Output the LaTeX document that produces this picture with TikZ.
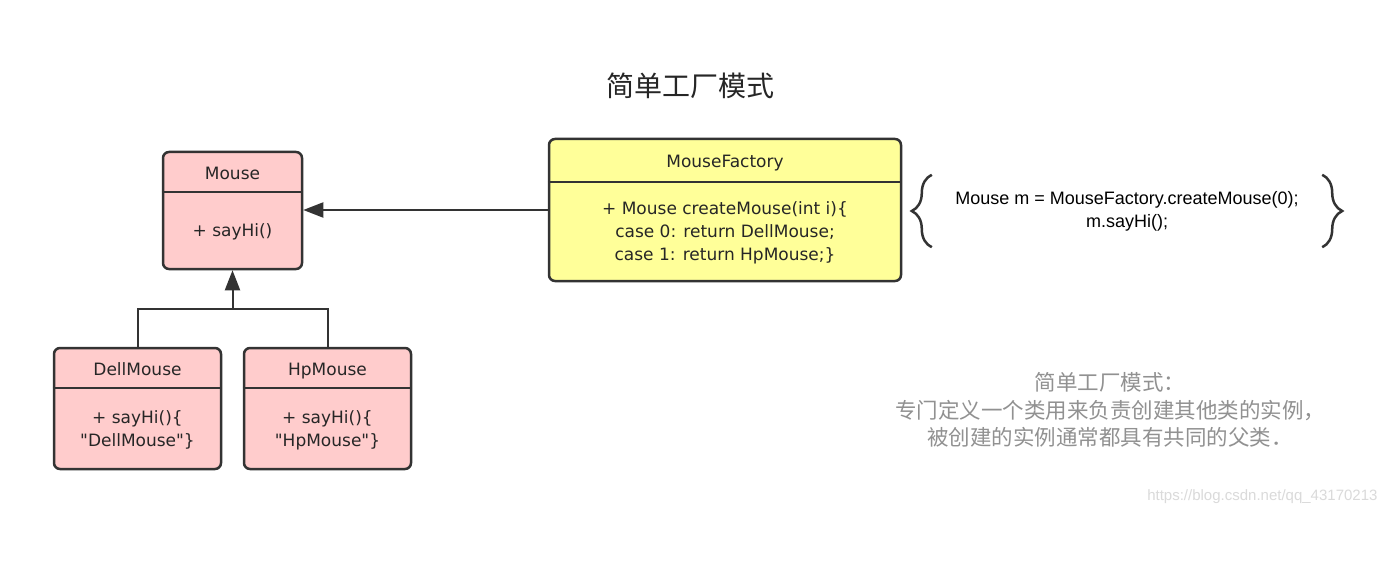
\documentclass[tikz,border=0pt]{standalone}
\usepackage{fontspec}
\setmainfont{Liberation Sans}
\newfontfamily\umlfont{DejaVu Sans}
\newfontfamily\cjk{Noto Sans CJK SC}
\usepackage{tikz}
\usetikzlibrary{positioning, arrows.meta, decorations.pathreplacing}
\definecolor{umlline}{RGB}{51,51,51}
\definecolor{umlpink}{RGB}{255,204,204}
\definecolor{umlyellow}{RGB}{255,255,153}
\definecolor{notegray}{RGB}{145,145,145}
\definecolor{markgray}{RGB}{218,218,218}

% name, center, width, height, header height, fill, title, body
\newcommand\umlclass[8]{%
  \node[classbox, fill=#6, minimum width=#3, minimum height=#4] (#1) at (#2) {};
  \draw[classline] ([yshift=-#5]#1.north west) -- ([yshift=-#5]#1.north east);
  \node[classtext, text height=12.5pt, text depth=3.5pt, minimum height=#5, below=3.5pt of #1.north] (#1-title) {#7};
  \node[classtext, minimum height=\the\numexpr#4-#5\relax, above=0pt of #1.south] (#1-body) {#8};
}

\begin{document}
\begin{tikzpicture}[x=1pt, y=-1pt,
  classbox/.style={draw=umlline, line width=2.5pt, rounded corners=6pt, inner sep=0pt},
  classline/.style={umlline, line width=2pt},
  classtext/.style={inner sep=0pt, align=center, text=black!85, font=\umlfont\fontsize{17}{23}\selectfont},
  arrow/.style={-{Triangle[length=20pt, width=15pt]}, umlline, line width=2pt},
  brace/.style={decorate, decoration={brace, amplitude=20pt}, umlline, line width=2.5pt},
  note/.style={align=center, text=notegray, font=\cjk\fontsize{21.5}{27.5}\selectfont}]
\useasboundingbox[fill=white] (0,0) rectangle (1400,572);

\node[font=\cjk\fontsize{28}{32}\selectfont, text=black!85] (title) at (690,86) {简单工厂模式};

\umlclass{mouse}{232.5,210.5}{139}{117}{41}{umlpink}{Mouse}{+ sayHi()}
\umlclass{factory}{725,210}{352}{142}{44}{umlyellow}{MouseFactory}
  {+ Mouse createMouse(int i)\{\\ case 0: return DellMouse;\\ case 1: return HpMouse;\}}
\umlclass{dell}{137.5,408.5}{167}{121}{41}{umlpink}{DellMouse}{+ sayHi()\{\\ \textquotedbl DellMouse\textquotedbl\}}
\umlclass{hp}{327.5,408.5}{167}{121}{41}{umlpink}{HpMouse}{+ sayHi()\{\\ \textquotedbl HpMouse\textquotedbl\}}

\draw[arrow] (factory.west) -- (factory.west -| mouse.east);
\coordinate (join) at (232.5,309);
\draw[classline] (dell.north) |- (join) -| (hp.north);
\draw[arrow] (join) -- (mouse.south);

\node[inner sep=0pt, minimum width=390, minimum height=72, align=center,
  font=\fontsize{18}{23}\selectfont] (client) at (1127,211)
  {Mouse m = MouseFactory.createMouse(0);\\ m.sayHi();};
\draw[brace] (client.south west) -- (client.north west);
\draw[brace] (client.north east) -- (client.south east);

\node[note] (remark) at (1110,410) {简单工厂模式：\\专门定义一个类用来负责创建其他类的实例，\\被创建的实例通常都具有共同的父类．};
\node[anchor=east, text=markgray, font=\fontsize{15}{18}\selectfont] (mark) at (1381,497) {https://blog.csdn.net/qq\_43170213};
\end{tikzpicture}
\end{document}
